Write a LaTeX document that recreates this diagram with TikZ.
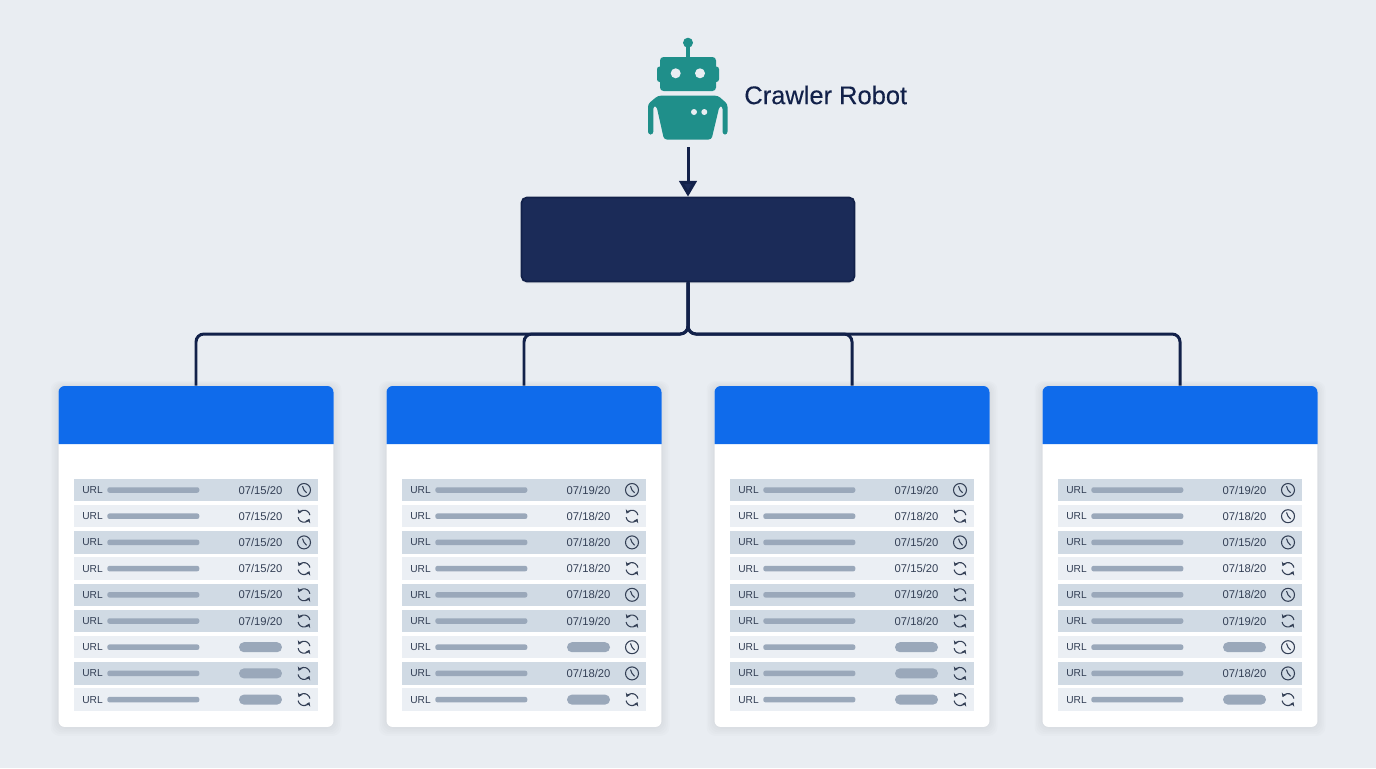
\documentclass[tikz,border=0pt]{standalone}
\usepackage{fontspec}
\setmainfont{Liberation Sans}
\newfontfamily\labelfont[FakeBold=0.2]{Liberation Sans}
\usetikzlibrary{arrows.meta,shadows}
\definecolor{pagebg}{HTML}{E9EDF2}
\definecolor{navy}{HTML}{1B2B58}
\definecolor{navyline}{HTML}{12214A}
\definecolor{headblue}{HTML}{0F6BEB}
\definecolor{teal}{HTML}{1F8F8A}
\definecolor{rowdark}{HTML}{D0DAE4}
\definecolor{rowlight}{HTML}{EBEFF4}
\definecolor{barcol}{HTML}{9AA8BA}
\definecolor{inkcol}{HTML}{333F55}
\tikzset{
  x=0.02cm,y=-0.02cm,
  hubbox/.style={draw=navyline,line width=1pt,fill=navy,rounded corners=3pt,minimum width=6.66cm,minimum height=1.68cm,inner sep=0pt,
    drop shadow={opacity=.15,shadow xshift=0pt,shadow yshift=-1pt}},
  panelbox/.style={fill=white,rounded corners=3.5pt,minimum width=5.5cm,minimum height=6.82cm,inner sep=0pt},
  link/.style={draw=navyline,line width=1.7pt,rounded corners=4.5pt},
  rowd/.style={fill=rowdark},
  rowl/.style={fill=rowlight},
  urltext/.style={font=\fontsize{5.8}{7}\selectfont,text=inkcol,inner sep=0pt},
  datetext/.style={font=\fontsize{6.4}{7}\selectfont,text=inkcol,inner sep=0pt},
  barline/.style={fill=barcol,rounded corners=1.2pt,minimum width=1.84cm,minimum height=0.11cm,inner sep=0pt},
  pillbox/.style={fill=barcol,rounded corners=2.8pt,minimum width=0.86cm,minimum height=0.2cm,inner sep=0pt},
  clockicon/.pic={
    \draw[inkcol,line width=.6pt] (0,0) circle (6.5);
    \draw[inkcol,line width=.6pt] (-1.5,-3.8) -- (0,0) -- (2.6,2.8);
  },
  syncicon/.pic={
    \draw[inkcol,line width=.6pt,-{Stealth[length=2.2pt,width=3pt]}] (170:6) arc (170:25:6);
    \draw[inkcol,line width=.6pt,-{Stealth[length=2.2pt,width=3pt]}] (-10:6) arc (-10:-155:6);
  },
}
% one row of a panel: panel, row, date style, date, icon
\newcommand{\urlrow}[5]{
  \pgfmathsetmacro{\px}{196+328*(#1-1)}
  \pgfmathsetmacro{\ry}{490+26.2*(#2-1)}
  \pgfmathtruncatemacro{\isdark}{(#2==1)||(#2==3)||(#2==5)||(#2==6)||(#2==8)}
  \ifnum\isdark=1\def\rowkind{rowd}\else\def\rowkind{rowl}\fi
  \node[\rowkind,minimum width=4.88cm,minimum height=0.45cm,inner sep=0pt] (row#1-#2) at (\px,\ry) {};
  \node[urltext,anchor=west] (url#1-#2) at (\px-114,\ry) {URL};
  \node[barline,anchor=west] (bar#1-#2) at (\px-89,\ry) {};
  \node[#3] (date#1-#2) at (\px+64.5,\ry) {#4};
  \pic at (\px+108,\ry) {#5};
}
\begin{document}
\begin{tikzpicture}
\useasboundingbox (0,0) rectangle (1376,768);
\fill[pagebg] (0,0) rectangle (1376,768);
% robot
\fill[teal] (686.2,44) rectangle (689.8,58);
\fill[teal] (688,42.7) circle (5);
\fill[teal,rounded corners=2pt] (660,57) rectangle (716,91);
\fill[teal,rounded corners=1.5pt] (657,66.5) rectangle (719,82);
\fill[pagebg] (675.7,73.3) circle (5);
\fill[pagebg] (700,73.3) circle (5);
\fill[teal,rounded corners=1.6pt] (648,134.5) -- (648,104) -- (658,95.7) -- (718,95.7) -- (727.5,104)
  -- (727.5,134.5) -- (722.5,134.5) -- (722.5,106) -- (719.5,106) -- (711.5,139.5) -- (664,139.5) -- (656.5,106) -- (653.3,106) -- (653.3,134.5) -- cycle;
\fill[pagebg] (694,112) circle (3);
\fill[pagebg] (704.3,112) circle (3);
\coordinate (robot) at (688,147);
\node[anchor=west,inner sep=0pt,text=navyline,font=\labelfont\fontsize{14.5}{17}\selectfont] (robotlabel) at (744,95) {Crawler Robot};
% hub and panels
\node[hubbox] (hub) at (688,239.5) {};
\coordinate (bus) at (688,334);
\foreach \p in {1,2,3,4}{
  \pgfmathsetmacro{\px}{196+328*(\p-1)}
  \foreach \g in {1,2,3,4,5}
    \fill[black,opacity=.012,rounded corners=5pt] (\px-137.5-\g*1.6,386-\g) rectangle (\px+137.5+\g*1.6,727+\g*1.8);
  \node[panelbox] (panel\p) at (\px,556.5) {};
  \fill[headblue] (\px-137.5,444) [rounded corners=3.5pt] -- (\px-137.5,386) -- (\px+137.5,386) [sharp corners] -- (\px+137.5,444) -- cycle;
}
\draw[link] (hub.south) -- (bus) -| (panel1.north);
\draw[link] (hub.south) -- (bus) -| (panel2.north);
\draw[link] (hub.south) -- (bus) -| (panel3.north);
\draw[link] (hub.south) -- (bus) -| (panel4.north);
\draw[navyline,line width=1.7pt,-{Triangle[length=9pt,width=10pt,fill=navy]}] (robot) -- (hub.north);
% rows
\foreach \r/\ds/\d/\ic in {1/datetext/{07/15/20}/clockicon,2/datetext/{07/15/20}/syncicon,3/datetext/{07/15/20}/clockicon,4/datetext/{07/15/20}/syncicon,5/datetext/{07/15/20}/syncicon,6/datetext/{07/19/20}/syncicon,7/pillbox//syncicon,8/pillbox//syncicon,9/pillbox//syncicon}
  {\urlrow{1}{\r}{\ds}{\d}{\ic}}
\foreach \r/\ds/\d/\ic in {1/datetext/{07/19/20}/clockicon,2/datetext/{07/18/20}/syncicon,3/datetext/{07/18/20}/clockicon,4/datetext/{07/18/20}/syncicon,5/datetext/{07/18/20}/clockicon,6/datetext/{07/19/20}/syncicon,7/pillbox//clockicon,8/datetext/{07/18/20}/clockicon,9/pillbox//syncicon}
  {\urlrow{2}{\r}{\ds}{\d}{\ic}}
\foreach \r/\ds/\d/\ic in {1/datetext/{07/19/20}/clockicon,2/datetext/{07/18/20}/syncicon,3/datetext/{07/15/20}/clockicon,4/datetext/{07/15/20}/syncicon,5/datetext/{07/19/20}/syncicon,6/datetext/{07/18/20}/syncicon,7/pillbox//syncicon,8/pillbox//syncicon,9/pillbox//syncicon}
  {\urlrow{3}{\r}{\ds}{\d}{\ic}}
\foreach \r/\ds/\d/\ic in {1/datetext/{07/19/20}/clockicon,2/datetext/{07/18/20}/clockicon,3/datetext/{07/15/20}/clockicon,4/datetext/{07/18/20}/syncicon,5/datetext/{07/18/20}/clockicon,6/datetext/{07/19/20}/syncicon,7/pillbox//clockicon,8/datetext/{07/18/20}/clockicon,9/pillbox//syncicon}
  {\urlrow{4}{\r}{\ds}{\d}{\ic}}
\end{tikzpicture}
\end{document}
